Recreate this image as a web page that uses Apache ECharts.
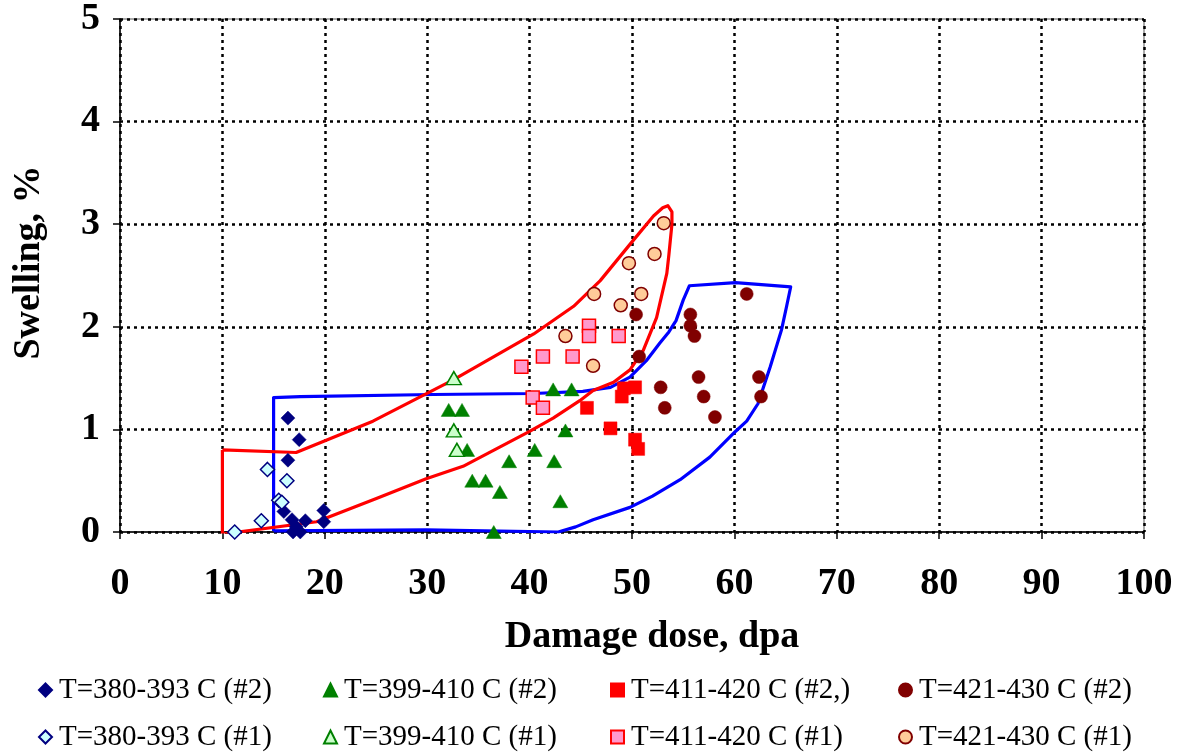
<!DOCTYPE html>
<html>
<head>
<meta charset="utf-8">
<script src="https://cdn.jsdelivr.net/npm/echarts@6/dist/echarts.min.js"></script>
<style>
html,body{margin:0;padding:0;background:#fff;}
#chart{width:1181px;height:756px;}
</style>
</head>
<body>
<div id="chart"></div>
<script>
// ---- data ----
var seriesNames = [
  'T=380-393 C (#2)', 'T=399-410 C (#2)', 'T=411-420 C (#2,)', 'T=421-430 C (#2)',
  'T=380-393 C (#1)', 'T=399-410 C (#1)', 'T=411-420 C (#1)', 'T=421-430 C (#1)'
];
var xTicks = [0,10,20,30,40,50,60,70,80,90,100];
var yTicks = [0,1,2,3,4,5];

var d380_2 = [[16.4,1.11],[17.5,0.90],[16.4,0.70],[16.0,0.20],[16.8,0.12],[18.1,0.11],[19.9,0.21],[19.9,0.10],[16.9,0.0],[17.6,0.0],[17.2,0.05]];
var d399_2 = [[32.1,1.19],[33.4,1.19],[43.5,0.99],[33.9,0.80],[40.5,0.80],[38.0,0.69],[42.4,0.69],[34.4,0.50],[35.7,0.50],[37.1,0.39],[43.0,0.30],[36.5,0.0],[42.3,1.39],[44.1,1.39]];
var d411_2 = [[45.6,1.21],[49.2,1.40],[50.3,1.41],[49.0,1.32],[47.9,1.01],[50.3,0.90],[50.6,0.81]];
var d421_2 = [[50.4,2.12],[50.7,1.71],[61.2,2.32],[55.7,2.12],[55.7,2.01],[56.1,1.91],[56.5,1.51],[62.4,1.51],[52.8,1.41],[57.0,1.32],[62.6,1.32],[53.2,1.21],[58.1,1.12]];
var d380_1 = [[14.4,0.61],[16.3,0.50],[15.5,0.31],[15.8,0.29],[13.8,0.11],[11.2,0.0]];
var d399_1 = [[32.6,1.50],[32.6,0.99],[32.9,0.80]];
var d411_1 = [[39.2,1.61],[40.3,1.31],[41.3,1.21],[41.3,1.71],[44.2,1.71],[45.8,2.01],[45.8,1.91],[48.7,1.91]];
var d421_1 = [[53.1,3.01],[52.2,2.71],[49.7,2.62],[46.3,2.32],[50.9,2.32],[48.9,2.21],[43.5,1.91],[46.2,1.62]];

var envBlue = [[15,0.01],[15,1.31],[17.6,1.32],[30.6,1.34],[40.4,1.35],[45.2,1.37],[47.9,1.41],[49.8,1.51],[51.4,1.67],[52.7,1.84],[53.6,1.95],[54.3,2.06],[55.0,2.26],[55.6,2.40],[60.1,2.43],[65.5,2.39],[65.1,2.2],[64.6,1.97],[63.5,1.61],[62.3,1.25],[61.2,1.08],[60.1,0.98],[57.6,0.73],[54.7,0.51],[52.0,0.35],[49.8,0.24],[46.2,0.12],[44.5,0.05],[42.8,0.0],[29.9,0.02],[15,0.01]];
var envRed = [[10,0.8],[17.2,0.775],[24.7,1.08],[32.5,1.48],[40.4,1.93],[44.3,2.2],[46.9,2.45],[50.1,2.84],[52.1,3.08],[53.0,3.16],[53.5,3.18],[53.9,3.12],[53.9,3.0],[53.6,2.7],[53.4,2.52],[52.4,2.09],[51.1,1.77],[49.8,1.58],[48.2,1.46],[46.2,1.38],[44.9,1.28],[42.3,1.11],[40.0,0.98],[33.5,0.64],[29.9,0.52],[25.1,0.33],[19.2,0.10],[10,-0.02],[10,0.8]];

// ---- styles ----
var FONT = 'Liberation Serif';
var styles = [
  {symbol:'diamond', size:[14,14], color:'#000080', border:'#000080'},
  {symbol:'triangle', size:[15,13], color:'#008000', border:'#008000'},
  {symbol:'rect', size:[13,13], color:'#FF0000', border:'#FF0000'},
  {symbol:'circle', size:13, color:'#800000', border:'#800000'},
  {symbol:'diamond', size:[14,14], color:'#CCFFFF', border:'#000080'},
  {symbol:'triangle', size:[15,13], color:'#CCFFCC', border:'#008000'},
  {symbol:'rect', size:[13,13], color:'#FF99CC', border:'#FF0000'},
  {symbol:'circle', size:13, color:'#FFCC99', border:'#800000'}
];
var datas = [d380_2, d399_2, d411_2, d421_2, d380_1, d399_1, d411_1, d421_1];

var series = [
  {name:'envBlue', type:'line', data:envBlue, showSymbol:false, symbol:'none', z:1,
   lineStyle:{color:'#0000FF', width:3.2, join:'round'}, silent:true},
  {name:'envRed', type:'line', data:envRed, showSymbol:false, symbol:'none', z:1,
   lineStyle:{color:'#FF0000', width:3.2, join:'round'}, silent:true}
];
for (var i=0;i<8;i++){
  series.push({
    name: seriesNames[i], type:'scatter', data: datas[i], z:3,
    symbol: styles[i].symbol, symbolSize: styles[i].size,
    itemStyle:{color:styles[i].color, borderColor:styles[i].border, borderWidth:(i>=4?1.5:0.5), opacity:1}
  });
}

var colX = [38, 323, 610, 898];
var rowY = [675, 722];
var legends = [];
for (var j=0;j<8;j++){
  legends.push({
    data:[seriesNames[j]], left: colX[j%4], top: rowY[Math.floor(j/4)],
    padding:0, itemWidth:13, itemHeight:13, itemGap:0, selectedMode:false,
    textStyle:{fontFamily:FONT, fontSize:29, color:'#000', lineHeight:30, padding:[0,0,0,2]}
  });
}

var chart = echarts.init(document.getElementById('chart'), null, {renderer:'canvas'});
chart.setOption({
  animation:false,
  backgroundColor:'#fff',
  grid:{left:120, right:37, top:18, bottom:224, show:true, borderColor:'#555', borderWidth:1, containLabel:false},
  legend: legends,
  xAxis:{
    type:'value', min:0, max:100, interval:10,
    name:'Damage dose, dpa', nameLocation:'middle', nameGap:86,
    nameTextStyle:{fontFamily:FONT, fontWeight:'bold', fontSize:38, color:'#000', padding:[0,0,0,40]},
    axisLine:{show:true, lineStyle:{color:'#000', width:1.5}},
    axisTick:{show:true, length:7, inside:false, lineStyle:{color:'#000', width:1.5}},
    axisLabel:{fontFamily:FONT, fontWeight:'bold', fontSize:38, color:'#000', margin:33,
      formatter:function(v){return xTicks.indexOf(v)>=0? String(v):'';}},
    splitLine:{show:true, lineStyle:{color:'#000', width:2.5, type:[3,4]}}
  },
  yAxis:{
    type:'value', min:0, max:5, interval:1,
    name:'Swelling, %', nameLocation:'middle', nameGap:72,
    nameTextStyle:{fontFamily:FONT, fontWeight:'bold', fontSize:38, color:'#000', padding:[0,0,0,26]},
    axisLine:{show:true, lineStyle:{color:'#000', width:1.5}},
    axisTick:{show:true, length:7, inside:false, lineStyle:{color:'#000', width:1.5}},
    axisLabel:{fontFamily:FONT, fontWeight:'bold', fontSize:38, color:'#000', margin:20,
      formatter:function(v){return yTicks.indexOf(v)>=0? String(v):'';}},
    splitLine:{show:true, lineStyle:{color:'#000', width:2.5, type:[3,4]}}
  },
  series: series
});
</script>
</body>
</html>
